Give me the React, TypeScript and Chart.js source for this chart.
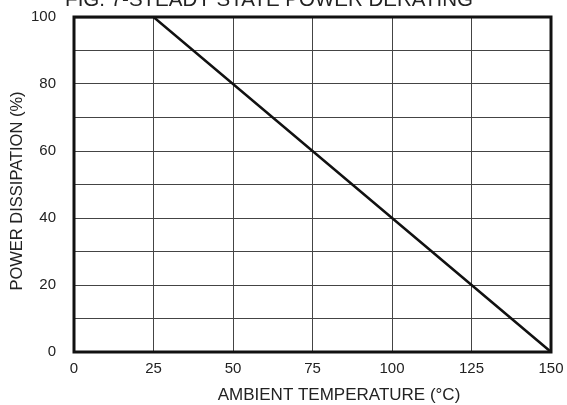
import React, { useEffect, useRef } from "react";
import { Chart, registerables } from "chart.js";

Chart.register(...registerables);

const temps = [0, 25, 150];
const power = [100, 100, 0];
const xTicks = [0, 25, 50, 75, 100, 125, 150];
const yLabelled = [0, 20, 40, 60, 80, 100];
const chartTitle = "FIG. 7-STEADY STATE POWER DERATING";
const xTitle = "AMBIENT TEMPERATURE (°C)";
const yTitle = "POWER DISSIPATION (%)";

const FONT = "'Liberation Sans', Arial, sans-serif";

export default function App() {
  const ref = useRef<HTMLCanvasElement>(null);
  useEffect(() => {
    if (!ref.current) return;
    const textPlugin = {
      id: "texts",
      afterDraw(chart: any) {
        const ctx = chart.ctx;
        const a = chart.chartArea;
        ctx.save();
        ctx.strokeStyle = "#111";
        ctx.lineWidth = 3;
        ctx.strokeRect(a.left, a.top, a.right - a.left, a.bottom - a.top);
        ctx.fillStyle = "#222";
        ctx.textAlign = "center";
        ctx.textBaseline = "alphabetic";
        ctx.font = `20.5px ${FONT}`;
        ctx.fillText(chartTitle, 269, 6);
        ctx.font = `17px ${FONT}`;
        ctx.fillText(xTitle, 339, 400);
        ctx.translate(22, 191);
        ctx.rotate(-Math.PI / 2);
        ctx.font = `16.5px ${FONT}`;
        ctx.fillText(yTitle, 0, 0);
        ctx.restore();
      },
    };
    const chart = new Chart(ref.current, {
      type: "line",
      data: {
        datasets: [
          {
            data: temps.map((t, i) => ({ x: t, y: power[i] })),
            borderColor: "#111",
            borderWidth: 2.5,
            pointRadius: 0,
            tension: 0,
          },
        ],
      },
      options: {
        animation: false,
        responsive: false,
        plugins: { legend: { display: false }, tooltip: { enabled: false } },
        layout: { padding: { top: 17, right: 16, left: 0, bottom: 0 } },
        scales: {
          x: {
            type: "linear",
            min: 0,
            max: 150,
            afterBuildTicks: (s: any) => {
              s.ticks = xTicks.map((v) => ({ value: v }));
            },
            afterFit: (s: any) => {
              s.height = 53;
              s.paddingLeft = 0;
              s.paddingRight = 0;
            },
            grid: { color: "#444", lineWidth: 1, drawTicks: false },
            border: { display: false },
            ticks: {
              padding: 8,
              color: "#222",
              font: { family: FONT, size: 15 },
              maxRotation: 0,
            },
          },
          y: {
            min: 0,
            max: 100,
            ticks: {
              stepSize: 10,
              padding: 18,
              color: "#222",
              font: { family: FONT, size: 15 },
              callback: (v: any) => (yLabelled.includes(v) ? String(v) : ""),
            },
            afterFit: (s: any) => {
              s.width = 74;
              s.paddingTop = 0;
              s.paddingBottom = 0;
            },
            grid: { color: "#444", lineWidth: 1, drawTicks: false },
            border: { display: false },
          },
        },
      },
      plugins: [textPlugin],
    } as any);
    return () => chart.destroy();
  }, []);
  return (
    <div style={{ position: "fixed", left: 0, top: 0, width: 567, height: 405, background: "#fff" }}>
      <canvas ref={ref} width={567} height={405} style={{ width: 567, height: 405 }} />
    </div>
  );
}
